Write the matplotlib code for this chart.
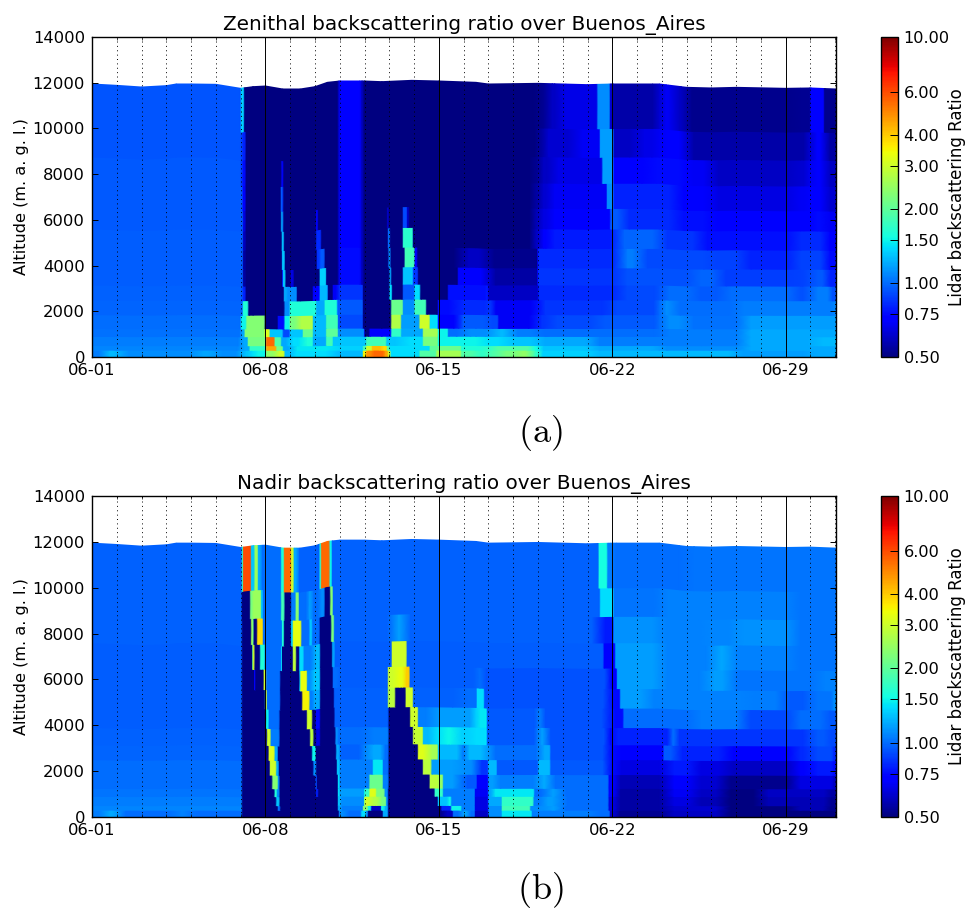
import numpy as np
import matplotlib
matplotlib.use("Agg")
import matplotlib.pyplot as plt
from matplotlib.colors import LogNorm
from matplotlib.cm import ScalarMappable

plt.rcParams['mathtext.fontset'] = 'cm'

# ---------------- data ----------------
week_ticks = [0, 7, 14, 21, 28]
week_labels = ["06-01", "06-08", "06-15", "06-22", "06-29"]
altitude_ticks = [0, 2000, 4000, 6000, 8000, 10000, 12000, 14000]
ratio_ticks = [0.5, 0.75, 1.0, 1.5, 2.0, 3.0, 4.0, 6.0, 10.0]

# level edges (m) at a reference tropopause height
level_edges = [0, 300, 500, 900, 1250, 1850, 2500, 3150, 3900, 4750, 5600, 6500, 7600, 8750, 10000, 11944]

# top of the data (day since 06-01, altitude m)
top_days = [0, 1, 2, 3, 3.4, 4, 5, 6, 6.5, 7, 7.7, 8.4, 9, 9.5, 10, 11, 11.7, 12.9, 14, 15.5, 16, 17, 18, 20, 21, 22.9, 24, 25, 26, 28, 29, 30.03]
top_alts = [11944, 11885, 11812, 11871, 11944, 11944, 11930, 11754, 11827, 11856, 11725, 11725, 11827, 12017, 12075, 12075, 12046, 12104, 12075, 12017, 11944, 11958, 11973, 11915, 11944, 11944, 11798, 11770, 11798, 11754, 11770, 11725]

# Zenithal panel: each row is a height band, (start day, ratio) segments
zen_r00 = [(0,1.05),(0.5,1.25),(1.2,1.1),(3.2,1.1),(4.2,1.18),(5,1.1),(6.02,1.3),(6.49,1.5),(7.03,2.4),(7.44,3.0),(7.77,1.25),(8.11,1.4),(9.72,1.25),(10.94,3.5),(11.07,4.8),(11.3,5.5),(11.8,4.5),(11.95,3.0),(12.05,1.4),(13.22,1.9),(13.9,2.6),(14.9,1.9),(15.5,1.7),(16.0,1.9),(16.5,2.2),(17.2,2.4),(17.6,2.1),(17.82,1.7),(18.09,1.35),(20.2,1.25),(26,1.15),(29,1.2)]
zen_r01 = [(0,1.08),(6.02,1.2),(6.36,1.7),(7.03,4.5),(7.44,2.2),(7.71,1.2),(8.11,1.45),(9.72,1.35),(10.94,1.8),(11.07,3.0),(11.3,4.2),(11.7,3.8),(11.9,2.0),(12.01,1.4),(13.63,2.0),(13.96,2.1),(14.9,1.6),(15.8,1.7),(16.2,1.9),(17.75,1.55),(18.09,1.3),(20.2,1.2),(22.9,1.1),(26.3,1.2)]
zen_r02 = [(0,1.05),(6.02,1.2),(6.29,2.2),(7.03,5.5),(7.37,1.9),(7.64,1.2),(7.98,1.4),(8.51,1.6),(8.92,1.2),(9.46,1.8),(9.72,1.3),(11.07,1.8),(11.88,1.3),(12.55,1.4),(13.36,2.2),(13.96,1.5),(15.8,1.4),(16.7,1.3),(18,1.2),(20.2,1.05),(24.3,1.05),(26.3,1.2),(29.2,1.25)]
zen_r03 = [(0,1.02),(6.02,1.2),(6.16,2.3),(6.97,3.2),(7.17,1.3),(7.71,0.9),(7.98,1.3),(8.51,2.1),(8.92,1.25),(9.46,2.0),(9.93,1.1),(11.0,0.5),(11.2,0.7),(12.08,1.7),(12.48,1.2),(13.36,2.6),(13.96,1.5),(14.37,1.0),(15,1.1),(16.2,1.25),(16.9,1.05),(18.0,1.0),(23,1.05),(26.3,1.2)]
zen_r04 = [(0,1.0),(6.02,1.5),(6.23,2.3),(6.97,0.5),(7.5,0.75),(7.77,1.5),(7.98,2.2),(8.31,2.7),(8.92,1.25),(9.46,1.8),(9.93,0.9),(10.94,0.5),(12.08,2.7),(12.48,1.15),(13.22,3.0),(13.63,1.4),(13.96,0.72),(14.7,0.8),(14.9,0.95),(16.0,0.9),(16.4,0.68),(17.9,0.85),(18.5,0.9),(20.4,0.95),(23,1.1),(24,1.02),(26.3,1.15)]
zen_r05 = [(0,0.98),(6.09,1.6),(6.31,0.5),(7.77,1.1),(7.98,1.6),(9.05,1.2),(9.39,1.6),(9.89,1.1),(9.93,0.95),(10.94,0.5),(12.08,2.1),(12.55,1.1),(13.02,1.8),(13.49,0.5),(13.96,0.75),(14.7,0.82),(15.95,0.85),(16.2,0.68),(18.0,0.85),(20.9,0.9),(22.93,1.1),(23.5,1.0),(26,1.05),(29.9,1.08)]
zen_r06 = [(0,0.97),(6.08,0.8),(6.2,0.5),(7.75,1.2),(7.87,1.1),(8.27,0.5),(8.92,0.72),(9.19,1.25),(9.52,0.5),(9.72,0.68),(9.93,0.85),(10.94,0.5),(12.01,1.4),(12.11,0.5),(12.55,0.95),(13.02,1.4),(13.25,0.5),(14.37,0.76),(15.9,0.78),(16.0,0.6),(18.02,0.82),(21.3,0.9),(23.0,1.0),(24.3,0.95),(25.5,1.0),(28.3,0.92),(29,1.05),(29.8,0.92)]
zen_r07 = [(0,0.96),(6.1,0.55),(6.2,0.5),(7.71,1.35),(7.81,0.5),(8.02,0.65),(8.14,0.5),(9.19,1.35),(9.46,0.5),(9.93,0.6),(10.0,0.75),(10.85,0.6),(10.95,0.5),(12.01,1.2),(12.08,0.5),(12.55,1.3),(12.96,0.85),(13.16,0.5),(14.77,0.7),(16.0,0.55),(18.0,0.85),(21.3,0.92),(24.28,0.98),(25.3,0.87),(28.32,0.88),(28.99,0.95),(29.66,0.8)]
zen_r08 = [(0,0.96),(6.1,0.55),(6.2,0.5),(7.68,1.3),(7.78,0.5),(9.08,0.85),(9.2,0.95),(9.39,0.5),(9.93,0.6),(10.0,0.75),(10.85,0.6),(10.95,0.5),(11.97,1.1),(12.05,0.5),(12.62,1.8),(13.02,0.7),(13.13,0.5),(14.91,0.6),(15.94,0.52),(18.0,0.82),(21.32,1.05),(22.13,0.9),(25,0.88),(26.3,0.8),(28.32,0.88),(29.6,0.75)]
zen_r09 = [(0,0.96),(6.1,0.6),(6.2,0.5),(7.66,1.25),(7.75,0.5),(9.05,0.82),(9.25,0.5),(9.93,0.6),(10,0.72),(10.85,0.6),(10.95,0.5),(11.95,1.0),(12.03,0.5),(12.55,1.65),(12.95,0.5),(17.8,0.6),(18.1,0.7),(18.5,0.78),(21.19,0.98),(22.93,0.85),(24.55,0.76),(28.32,0.82),(29.6,0.7)]
zen_r10 = [(0,0.95),(6.1,0.65),(6.2,0.5),(7.64,1.2),(7.72,0.5),(9.05,0.7),(9.12,0.5),(9.93,0.6),(10.0,0.72),(10.85,0.6),(10.95,0.5),(11.92,0.6),(11.98,0.5),(12.55,0.9),(12.72,0.6),(12.8,0.5),(17.8,0.58),(18.1,0.65),(18.5,0.72),(20.92,0.95),(21.45,0.82),(23.6,0.76),(25,0.72),(28.3,0.72),(29,0.75),(29.6,0.68)]
zen_r11 = [(0,0.95),(6.08,0.7),(6.2,0.5),(7.62,0.95),(7.72,0.5),(9.93,0.6),(10.0,0.72),(10.85,0.6),(10.95,0.5),(17.8,0.55),(18.1,0.62),(18.5,0.68),(20.78,1.1),(21.05,0.8),(23.6,0.72),(25,0.65),(28.3,0.68),(29,0.72),(29.6,0.62)]
zen_r12 = [(0,0.95),(6.05,0.75),(6.2,0.5),(7.65,0.75),(7.72,0.5),(9.93,0.6),(10.0,0.72),(10.85,0.6),(10.95,0.5),(17.8,0.53),(18.1,0.6),(18.6,0.66),(20.6,1.15),(21.05,0.72),(22.5,0.75),(24.0,0.68),(25,0.6),(28.3,0.62),(29,0.72),(29.6,0.6)]
zen_r13 = [(0,0.94),(6.05,0.8),(6.2,0.5),(9.93,0.6),(10.0,0.72),(10.85,0.6),(10.95,0.5),(18.0,0.55),(18.3,0.62),(19.5,0.68),(20.5,1.15),(21.05,0.6),(22.0,0.66),(22.9,0.7),(24.0,0.56),(28.3,0.56),(29.0,0.7),(29.6,0.55)]
zen_r14 = [(0,0.93),(6.02,1.35),(6.14,0.5),(9.93,0.6),(10.0,0.72),(10.85,0.6),(10.95,0.5),(18.0,0.53),(18.4,0.6),(18.9,0.66),(20.4,1.1),(20.9,0.62),(21.0,0.56),(22.9,0.68),(23.5,0.6),(24.0,0.52),(28.3,0.53),(29.0,0.7),(29.55,0.52)]

# Nadir panel
nad_r00 = [(0,1.05),(0.5,1.2),(1.1,1.0),(3.3,1.06),(4,1.0),(6.06,0.5),(9.97,1.1),(10.26,1.0),(10.87,1.4),(11.07,1.1),(11.14,0.5),(11.74,1.2),(11.95,0.5),(14.17,0.6),(14.57,1.0),(14.91,1.2),(15.2,1.0),(15.46,0.6),(16,1.1),(16.54,1.45),(17.75,1.05),(20.3,1.0),(20.9,0.62),(21.19,0.53),(23.2,0.6),(25.5,0.5),(29.66,0.5)]
nad_r01 = [(0,1.08),(6.06,0.5),(7.5,1.0),(7.6,0.5),(9.93,1.2),(10.06,1.05),(10.94,2.3),(11.14,1.5),(11.27,0.6),(11.68,1.5),(11.81,1.2),(11.95,0.5),(14.1,0.8),(14.5,1.5),(14.91,1.05),(15.46,0.65),(16,1.1),(16.54,1.8),(17.69,1.1),(18.36,1.15),(18.9,1.0),(20.85,0.65),(21.19,0.55),(23.2,0.62),(25.5,0.5),(28.3,0.58),(29.66,0.52)]
nad_r02 = [(0,1.05),(6.06,0.5),(7.44,1.3),(7.57,0.5),(9.93,1.3),(10.03,1.1),(11,3),(11.27,2.7),(11.61,2.2),(11.88,1.1),(11.95,0.5),(13.96,1.3),(14.37,1.5),(14.5,1.05),(15.46,0.65),(16,1.2),(16.54,1.7),(17.82,1.05),(18.22,1.15),(18.9,1.0),(20.85,0.65),(21.19,0.55),(23.2,0.65),(24.3,0.58),(25.5,0.5),(27,0.58),(29.7,0.53)]
nad_r03 = [(0,1.03),(6.06,0.5),(7.37,1.6),(7.46,1.1),(7.57,0.5),(9.05,0.8),(9.13,0.5),(9.93,1.4),(10,1.15),(11,1.7),(11.2,3.2),(11.47,2.2),(11.81,1.1),(11.95,0.5),(13.83,1.7),(14.17,1.05),(15.46,0.68),(16,1.2),(16.2,1.45),(17.85,1.0),(18.36,1.15),(18.9,1.0),(20.85,0.7),(21.19,0.55),(23.2,0.68),(24.3,0.6),(25.5,0.5),(27,0.6),(29.7,0.55)]
nad_r04 = [(0,1.0),(6.06,0.5),(7.28,2.3),(7.5,1.1),(7.57,0.5),(9.03,0.9),(9.08,0.5),(9.93,1.4),(10,1.05),(11.2,2.1),(11.74,1.05),(11.97,0.5),(13.63,2.8),(14,2.4),(14.17,1.15),(14.86,0.95),(15.53,0.72),(16,1.15),(16.34,1.05),(18.02,1.2),(18.5,1.0),(20.85,0.72),(21.19,0.58),(23.2,0.72),(24.3,0.62),(25.5,0.52),(28.3,0.65),(29.9,0.6)]
nad_r05 = [(0,1.0),(6.06,0.5),(7.18,3),(7.44,1.2),(7.54,0.5),(8.94,1.1),(9.05,0.5),(9.89,1.3),(10.0,1.05),(11.34,1.45),(11.74,1.0),(11.97,0.5),(13.36,2.8),(13.7,1.15),(14.86,1.1),(15.53,0.85),(16.0,1.25),(16.34,0.95),(18.02,1.25),(18.5,0.95),(20.8,0.75),(21.2,0.65),(23.2,0.78),(24.3,0.65),(25.6,0.6),(28.3,0.72),(29,0.78),(29.9,0.75)]
nad_r06 = [(0,0.98),(6.06,0.5),(7.13,3.2),(7.37,1.2),(7.5,0.5),(8.89,1.5),(9.03,0.5),(9.86,1.2),(10.0,0.97),(11.07,1.2),(11.74,1.0),(11.97,0.5),(13.16,3.2),(13.56,2.6),(13.96,1.25),(14.86,1.05),(15.13,1.25),(16.0,1.0),(18.09,1.2),(18.5,0.92),(20.8,0.75),(21.2,0.72),(23.07,0.95),(23.6,0.8),(25.6,0.7),(26.3,0.72),(28.3,0.82),(29,0.9),(29.9,0.82)]
nad_r07 = [(0,0.97),(6.06,0.5),(7.07,3),(7.21,1.05),(7.57,0.5),(8.81,2.8),(8.94,0.5),(9.05,0.65),(9.21,0.5),(9.83,1.1),(9.93,1.0),(11.07,1.05),(11.97,0.5),(12.96,2.9),(13.36,1.25),(13.76,1.4),(14.17,1.5),(14.7,1.35),(15.4,1.4),(15.94,0.95),(18,1.15),(18.36,0.92),(20.8,0.75),(21.1,0.8),(23.34,1.0),(23.6,0.85),(26,0.85),(29,0.95),(29.7,0.9)]
nad_r08 = [(0,0.96),(6.06,0.5),(7.03,1.5),(7.13,1.0),(7.57,0.5),(8.68,3.0),(8.89,0.5),(9.03,0.75),(9.21,0.5),(9.79,0.97),(11.97,0.5),(12.85,3.0),(13.16,1.05),(13.76,1.15),(15.46,1.45),(15.94,0.95),(17.96,1.05),(18.2,0.92),(20.85,0.75),(21.45,1.0),(24.3,1.05),(26.3,0.9),(28.3,1.0),(29.6,0.95)]
nad_r09 = [(0,0.96),(6.06,0.5),(7.0,3),(7.06,1),(7.6,0.5),(8.49,3.5),(8.78,1.05),(8.94,1.2),(9.21,0.5),(9.77,0.97),(11.95,2.8),(12.24,0.5),(12.66,3),(12.96,0.97),(14.86,1.0),(15.53,1.4),(15.83,0.92),(20.85,0.75),(21.32,1.15),(22.4,1.06),(26.5,1.05),(27.9,0.95),(29,1.03),(29.9,1.1)]
nad_r10 = [(0,0.96),(6.06,0.5),(6.56,0.7),(6.6,0.5),(6.93,3.0),(7.03,1.0),(7.6,0.5),(8.41,3.3),(8.68,1.1),(8.89,1.3),(9.21,0.5),(9.72,1.0),(10,0.96),(11.95,3),(12.28,3.3),(12.62,4),(12.82,0.96),(15.5,1.0),(15.8,0.92),(20.85,0.72),(21.19,1.15),(22.93,1.06),(24.82,1.15),(25.76,1.03),(29.3,1.06)]
nad_r11 = [(0,0.96),(6.06,0.5),(6.49,3),(6.56,0.5),(6.79,1.6),(6.97,1.0),(7.64,1.4),(7.68,0.5),(8.11,2.8),(8.24,0.5),(8.38,1.4),(8.54,1.05),(8.94,1.25),(9.21,0.5),(9.7,1.2),(9.79,0.96),(12.1,3.0),(12.7,0.96),(20.65,0.72),(21.12,1.15),(22.93,1.06),(25.09,1.18),(25.76,1.06),(28.32,1.03)]
nad_r12 = [(0,0.97),(6.06,0.5),(6.43,2.5),(6.52,0.5),(6.67,3.8),(6.9,1.0),(7.68,1.6),(7.75,0.5),(8.04,1.3),(8.11,3.3),(8.45,1.0),(8.78,1.3),(8.89,1.0),(9.19,0.5),(9.66,2.2),(9.77,0.97),(12.15,1.15),(12.65,0.97),(20.45,0.78),(21.05,1.12),(22.93,1.06),(24.8,1.08),(26,1.12),(28.32,1.03)]
nad_r13 = [(0,0.97),(6.05,0.5),(6.39,2.2),(6.49,2.5),(6.83,1.3),(6.9,1.0),(7.64,1.8),(7.77,0.5),(8.04,1.05),(8.22,2.3),(8.35,1.0),(8.72,1.15),(8.89,1.0),(9.19,1.1),(9.39,0.5),(9.62,2.3),(9.72,0.97),(20.51,1.4),(21.05,1.03),(22.93,1.06),(28.32,1.03)]
nad_r14 = [(0,0.97),(6.05,1.6),(6.1,6.0),(6.42,1.3),(6.56,2.5),(6.7,1.2),(6.83,1.0),(7.64,1.6),(7.75,5.5),(8.04,3),(8.14,1.2),(8.31,0.97),(9.19,1.6),(9.25,5.5),(9.59,1.5),(9.68,0.97),(20.45,1.55),(20.8,1.05),(21.05,1.0),(24,1.03)]

zen_rows = [zen_r00, zen_r01, zen_r02, zen_r03, zen_r04, zen_r05, zen_r06, zen_r07, zen_r08, zen_r09, zen_r10, zen_r11, zen_r12, zen_r13, zen_r14]
nad_rows = [nad_r00, nad_r01, nad_r02, nad_r03, nad_r04, nad_r05, nad_r06, nad_r07, nad_r08, nad_r09, nad_r10, nad_r11, nad_r12, nad_r13, nad_r14]

# ---------------- drawing ----------------
W, H = 967, 910
XMAX = 30.03
norm = LogNorm(0.5, 10)
cmap = plt.get_cmap('jet')


def row_nodes(row):
    days = [p[0] for p in row]
    vals = [p[1] for p in row]
    ends = days[1:] + [XMAX]
    t, v = [days[0]], [vals[0]]
    for i in range(1, len(days)):
        jump = abs(np.log(vals[i] / vals[i - 1]))
        h = 0.3 if jump < np.log(1.3) else 0.03
        h = min(h, 0.45 * (days[i] - days[i - 1]), 0.45 * (ends[i] - days[i]))
        t += [days[i] - h, days[i] + h]
        v += [vals[i - 1], vals[i]]
    t.append(XMAX)
    v.append(vals[-1])
    grid = np.unique(np.concatenate([t, top_days]))
    return grid, np.interp(grid, t, v)


def axes_box(left, right, top, bottom):
    return [left / W, 1 - bottom / H, (right - left) / W, (bottom - top) / H]


def draw_panel(ax, rows, title):
    ref = level_edges[-1]
    for k, row in enumerate(rows):
        t, v = row_nodes(row)
        scale = np.interp(t, top_days, top_alts) / ref
        X = np.vstack([t, t])
        Y = np.vstack([level_edges[k] * scale, level_edges[k + 1] * scale])
        C = np.vstack([v, v])
        ax.pcolormesh(X, Y, C, shading='gouraud', cmap=cmap, norm=norm, rasterized=False, zorder=1)
    ax.set_xlim(0, XMAX)
    ax.set_ylim(0, 14000)
    ax.set_xticks(week_ticks)
    ax.set_xticklabels(week_labels)
    ax.set_xticks(np.arange(0, 31), minor=True)
    ax.set_yticks(altitude_ticks)
    ax.tick_params(axis='both', which='major', direction='in', top=True, right=True, length=4, width=0.7, labelsize=11.8, pad=5)
    ax.tick_params(axis='x', which='major', pad=4)
    ax.tick_params(axis='x', which='minor', direction='in', top=True, length=2, width=0.5)
    ax.grid(True, which='major', axis='x', color='black', lw=0.7, ls='-', zorder=3)
    ax.grid(True, which='minor', axis='x', color='black', lw=0.7, ls=(0, (1, 3.5)), zorder=3)
    ax.set_axisbelow(False)
    ax.set_ylabel("Altitude (m. a. g. l.)", fontsize=11.6, labelpad=3)
    ax.set_title(title, fontsize=14.4, pad=5)
    for s in ax.spines.values():
        s.set_linewidth(1.0)


def draw_colorbar(left, right, top, bottom):
    cax = fig.add_axes(axes_box(left, right, top, bottom))
    sm = ScalarMappable(norm=norm, cmap=cmap)
    cb = fig.colorbar(sm, cax=cax, ticks=ratio_ticks, format='%.2f')
    cb.minorticks_off()
    cax.tick_params(direction='in', length=6, width=0.7, labelsize=11.6, pad=4)
    cb.outline.set_linewidth(1.0)
    fig.text(956.5 / W, 1 - (top + bottom) / 2 / H, "Lidar backscattering Ratio", fontsize=12,
             rotation=90, ha='center', va='center')


fig = plt.figure(figsize=(W / 100, H / 100), dpi=100)
ax_a = fig.add_axes(axes_box(92, 836, 37, 357))
ax_b = fig.add_axes(axes_box(92, 836, 496, 817))
draw_panel(ax_a, zen_rows, "Zenithal backscattering ratio over Buenos_Aires")
draw_panel(ax_b, nad_rows, "Nadir backscattering ratio over Buenos_Aires")
draw_colorbar(881, 898, 37, 357)
draw_colorbar(881, 898, 496, 817)
fig.text(540 / W, 1 - 433 / H, r"$\mathrm{(a)}$", fontsize=26, ha='center', va='center')
fig.text(540 / W, 1 - 890 / H, r"$\mathrm{(b)}$", fontsize=26, ha='center', va='center')
fig.savefig("out.png", dpi=100)
